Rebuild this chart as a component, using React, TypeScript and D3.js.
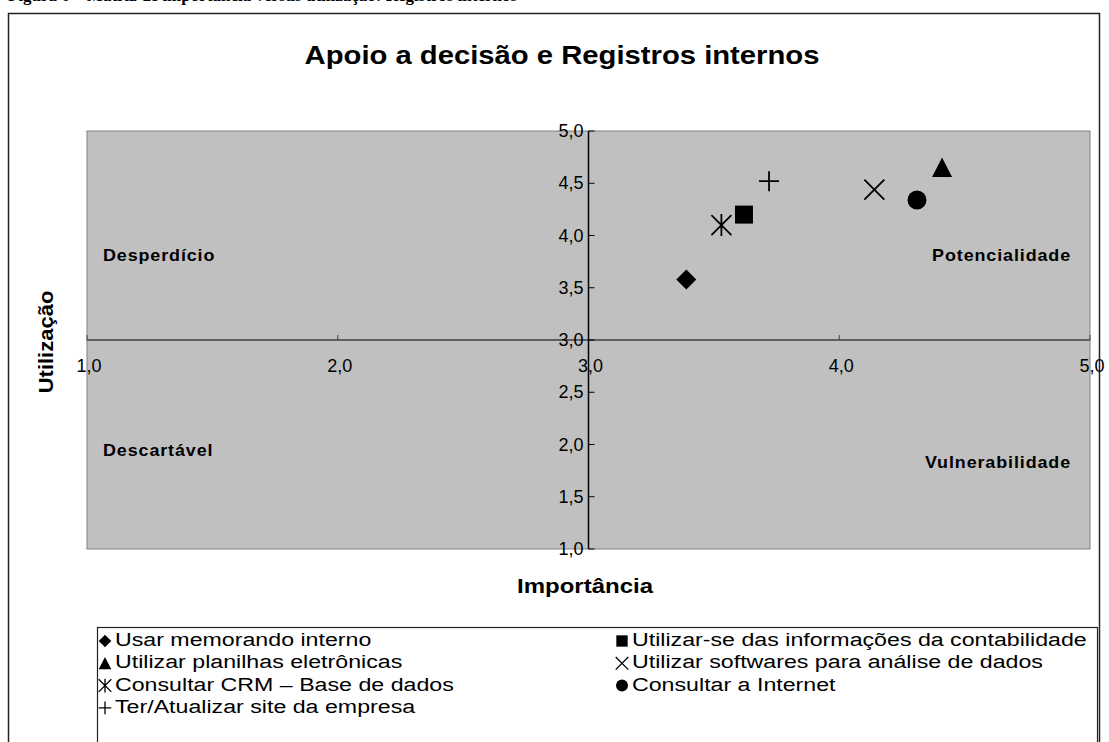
import React, { useEffect, useRef } from 'react';
import * as d3 from 'd3';

// values (importância x utilização)
const categories = [
    'Usar memorando interno',
    'Utilizar-se das informações da contabilidade',
    'Utilizar planilhas eletrônicas',
    'Utilizar softwares para análise de dados',
    'Consultar CRM – Base de dados',
    'Consultar a Internet',
    'Ter/Atualizar site da empresa'
];
const importancia = [3.39, 3.62, 4.41, 4.14, 3.53, 4.31, 3.72];
const utilizacao = [3.58, 4.20, 4.65, 4.44, 4.10, 4.34, 4.52];
const markers = ['diamond', 'square', 'triangle', 'x', 'star', 'circle', 'plus'];

const xTicks = [1, 2, 3, 4, 5];
const yTicks = [1, 1.5, 2, 2.5, 3, 3.5, 4, 4.5, 5];
const quadrants = ['Desperdício', 'Potencialidade', 'Descartável', 'Vulnerabilidade'];

const fmt = (v: number) => d3.format('.1f')(v).replace('.', ',');

// marker path centred on 0,0, r = half width
const markerPath = (type: string, r: number) => {
    const p = d3.path();
    if (type === 'diamond') {
        p.moveTo(0, -r); p.lineTo(r, 0); p.lineTo(0, r); p.lineTo(-r, 0); p.closePath();
    } else if (type === 'square') {
        p.rect(-r * 0.9, -r * 0.9, r * 1.8, r * 1.8);
    } else if (type === 'triangle') {
        p.moveTo(0, -r); p.lineTo(r, r * 0.95); p.lineTo(-r, r * 0.95); p.closePath();
    } else if (type === 'circle') {
        p.arc(0, 0, r * 0.95, 0, 2 * Math.PI);
    } else if (type === 'x') {
        p.moveTo(-r, -r); p.lineTo(r, r); p.moveTo(r, -r); p.lineTo(-r, r);
    } else if (type === 'plus') {
        p.moveTo(-r, 0); p.lineTo(r, 0); p.moveTo(0, -r); p.lineTo(0, r);
    } else if (type === 'star') {
        p.moveTo(-r, -r); p.lineTo(r, r); p.moveTo(r, -r); p.lineTo(-r, r);
        p.moveTo(0, -r * 1.1); p.lineTo(0, r * 1.1);
    }
    return p.toString();
};
const filled = (t: string) => ['diamond', 'square', 'triangle', 'circle'].includes(t);

const App = () => {
    const ref = useRef<SVGSVGElement>(null);

    useEffect(() => {
        const svg = d3.select(ref.current);
        svg.selectAll('*').remove();
        const font = 'Arial, "Liberation Sans", sans-serif';

        const x = d3.scaleLinear().domain([1, 5]).range([87, 1090]);
        const y = d3.scaleLinear().domain([1, 5]).range([549, 131]);

        // caption above the frame, cropped by the page edge
        svg.append('text')
            .attr('x', 8).attr('y', 1)
            .attr('font-family', '"Liberation Serif", "Times New Roman", serif')
            .attr('font-weight', 'bold').attr('font-size', 17)
            .text('Figura 6 – Matriz de importância versus utilização: Registros internos');

        // outer frame
        svg.append('rect')
            .attr('x', 8.5).attr('y', 13.5).attr('width', 1091).attr('height', 760)
            .attr('fill', '#fff').attr('stroke', '#222').attr('stroke-width', 1.5);

        svg.append('text')
            .attr('x', 0).attr('y', 0).attr('text-anchor', 'middle')
            .attr('font-family', font).attr('font-weight', 'bold').attr('font-size', 25)
            .attr('transform', 'translate(562,64) scale(1.17,1)')
            .text('Apoio a decisão e Registros internos');

        // plot area
        svg.append('rect')
            .attr('x', x(1)).attr('y', y(5))
            .attr('width', x(5) - x(1)).attr('height', y(1) - y(5))
            .attr('fill', '#c0c0c0').attr('stroke', '#808080').attr('stroke-width', 1);

        // quadrant labels
        const qPos = [
            { x: 103, y: 261, a: 'start' },
            { x: 1071, y: 261, a: 'end' },
            { x: 103, y: 456, a: 'start' },
            { x: 1071, y: 468, a: 'end' }
        ];
        svg.selectAll('.quad')
            .data(quadrants)
            .enter().append('text')
            .attr('class', 'quad')
            .attr('transform', (d: any, i: number) => 'translate(' + qPos[i].x + ',' + qPos[i].y + ') scale(1.12,1)')
            .attr('text-anchor', (d: any, i: number) => qPos[i].a)
            .attr('font-family', font).attr('font-weight', 'bold').attr('font-size', 16)
            .attr('letter-spacing', 0.8)
            .text((d: any) => d);

        // x axis through 3,0
        const gx = svg.append('g').attr('transform', 'translate(0,' + y(3) + ')');
        gx.append('line').attr('x1', x(1)).attr('x2', x(5)).attr('stroke', '#404040').attr('stroke-width', 1.5);
        gx.selectAll('.xt')
            .data(xTicks)
            .enter().append('line')
            .attr('x1', (d: number) => x(d)).attr('x2', (d: number) => x(d))
            .attr('y1', 0).attr('y2', -5)
            .attr('stroke', '#404040');
        gx.selectAll('.xl')
            .data(xTicks)
            .enter().append('text')
            .attr('x', (d: number) => x(d) + 2).attr('y', 32)
            .attr('text-anchor', 'middle')
            .attr('font-family', font).attr('font-size', 18)
            .text((d: number) => fmt(d));

        // y axis through 3,0
        const gy = svg.append('g').attr('transform', 'translate(' + x(3) + ',0)');
        gy.append('line').attr('y1', y(1)).attr('y2', y(5)).attr('stroke', '#000').attr('stroke-width', 1.5);
        gy.selectAll('.yt')
            .data(yTicks)
            .enter().append('line')
            .attr('x1', 0).attr('x2', 6)
            .attr('y1', (d: number) => y(d)).attr('y2', (d: number) => y(d))
            .attr('stroke', '#000');
        gy.selectAll('.yl')
            .data(yTicks)
            .enter().append('text')
            .attr('x', -5).attr('y', (d: number) => y(d) + 6)
            .attr('text-anchor', 'end')
            .attr('font-family', font).attr('font-size', 18)
            .text((d: number) => fmt(d));

        // axis titles
        svg.append('text')
            .attr('transform', 'translate(585,593) scale(1.2,1)')
            .attr('text-anchor', 'middle')
            .attr('font-family', font).attr('font-weight', 'bold').attr('font-size', 20)
            .text('Importância');
        svg.append('text')
            .attr('transform', 'translate(53,342) rotate(-90) scale(1.1,1)')
            .attr('text-anchor', 'middle')
            .attr('font-family', font).attr('font-weight', 'bold').attr('font-size', 20)
            .text('Utilização');

        // points
        svg.selectAll('.pt')
            .data(categories)
            .enter().append('path')
            .attr('class', 'pt')
            .attr('transform', (d: any, i: number) => 'translate(' + x(importancia[i]) + ',' + y(utilizacao[i]) + ')')
            .attr('d', (d: any, i: number) => markerPath(markers[i], 10))
            .attr('fill', (d: any, i: number) => filled(markers[i]) ? '#000' : 'none')
            .attr('stroke', '#000')
            .attr('stroke-width', (d: any, i: number) => filled(markers[i]) ? 0 : 1.8);

        // legend
        svg.append('rect')
            .attr('x', 97.5).attr('y', 627.5).attr('width', 1000).attr('height', 140)
            .attr('fill', '#fff').attr('stroke', '#222').attr('stroke-width', 1.2);

        const legendG = svg.selectAll('.legend')
            .data(categories)
            .enter().append('g')
            .attr('class', 'legend')
            .attr('transform', (d: any, i: number) =>
                'translate(' + (i % 2 ? 622 : 105) + ',' + (639 + Math.floor(i / 2) * 22.3) + ')');

        legendG.append('path')
            .attr('d', (d: any, i: number) => markerPath(markers[i], 6.3))
            .attr('fill', (d: any, i: number) => filled(markers[i]) ? '#000' : 'none')
            .attr('stroke', '#000')
            .attr('stroke-width', (d: any, i: number) => filled(markers[i]) ? 0 : 1.3)
            .attr('transform', 'translate(0,2)');

        legendG.append('text')
            .attr('transform', 'translate(10,7) scale(1.22,1)')
            .attr('font-family', font).attr('font-size', 19)
            .text((d: any) => d);
    }, []);

    return (
        <svg ref={ref} width={1109} height={742}
            style={{ position: 'absolute', left: 0, top: 0, background: '#fff' }} />
    );
};

export default App;
